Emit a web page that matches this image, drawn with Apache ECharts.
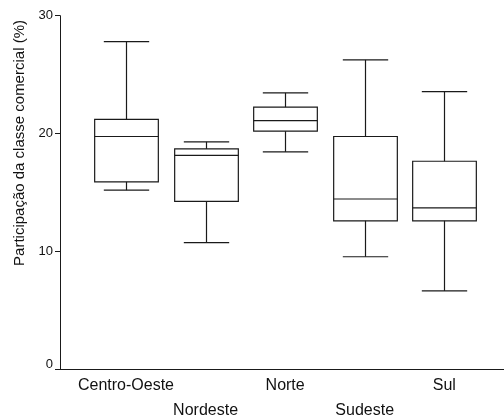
<!DOCTYPE html>
<html><head><meta charset="utf-8">
<script src="https://cdn.jsdelivr.net/npm/echarts@6/dist/echarts.min.js"></script>
<style>html,body{margin:0;padding:0;background:#fff}#c{width:504px;height:417px}</style>
</head><body><div id="c"></div>
<script>
const categories = ['Centro-Oeste', 'Nordeste', 'Norte', 'Sudeste', 'Sul'];
const whiskerLow = [15.2, 10.75, 18.45, 9.55, 6.65];
const q1 = [15.9, 14.25, 20.2, 12.6, 12.6];
const median = [19.75, 18.15, 21.1, 14.45, 13.7];
const q3 = [21.2, 18.7, 22.25, 19.75, 17.65];
const whiskerHigh = [27.8, 19.3, 23.45, 26.25, 23.55];
const yTicks = [0, 10, 20, 30];
const yTitle = 'Participação da classe comercial (%)';

const FONT = '"Liberation Sans", Arial, sans-serif';
const INK = '#1a1a1a';
const data = categories.map((c, i) => [i, whiskerLow[i], q1[i], median[i], q3[i], whiskerHigh[i]]);

const chart = echarts.init(document.getElementById('c'), null, {renderer: 'canvas'});
chart.setOption({
  animation: false,
  backgroundColor: '#fff',
  grid: [
    {left: 60, right: 0, top: 15.7, bottom: 47.7, outerBoundsMode: 'none', containLabel: false},
    {left: 86.2, right: 19.9, top: 15.7, bottom: 47.7, outerBoundsMode: 'none', containLabel: false}
  ],
  xAxis: [
    {gridIndex: 0, type: 'value', min: 0, max: 1,
     axisLine: {show: true, onZero: false, lineStyle: {color: INK, width: 1}},
     axisTick: {show: false}, axisLabel: {show: false}, splitLine: {show: false}},
    {gridIndex: 1, type: 'category', data: categories, boundaryGap: true,
     axisLine: {show: false}, axisTick: {show: false}, splitLine: {show: false},
     axisLabel: {
       interval: 0, margin: 4, fontFamily: FONT, fontSize: 16, color: '#111', lineHeight: 25,
       formatter: (v) => categories.indexOf(v) % 2 ? '\n' + v : v
     }}
  ],
  yAxis: [
    {gridIndex: 0, type: 'value', min: yTicks[0], max: yTicks[yTicks.length - 1], interval: 10,
     axisLine: {show: true, lineStyle: {color: INK, width: 1}},
     axisTick: {show: true, length: 5, lineStyle: {color: INK}},
     splitLine: {show: false},
     axisLabel: {margin: 7, fontFamily: FONT, fontSize: 13, color: '#111',
       formatter: (v) => v === 0 ? '{z|0}' : String(v),
       rich: {z: {fontFamily: FONT, fontSize: 13, color: '#111', padding: [0, 0, 9, 0]}}}},
    {gridIndex: 1, type: 'value', min: yTicks[0], max: yTicks[yTicks.length - 1], show: false}
  ],
  graphic: [{
    type: 'text', x: 20, y: 143, rotation: Math.PI / 2,
    style: {text: yTitle, font: '15px ' + FONT, fill: '#111', align: 'center', verticalAlign: 'middle'}
  }],
  series: [{
    type: 'custom', xAxisIndex: 1, yAxisIndex: 1,
    data: data,
    encode: {x: 0, y: [1, 2, 3, 4, 5]},
    renderItem: function (params, api) {
      const i = api.value(0);
      const band = api.size([1, 0])[0];
      const bw = band * 0.8, cw = band * 0.57;
      const lo = api.coord([i, api.value(1)]);
      const a = api.coord([i, api.value(2)]);
      const m = api.coord([i, api.value(3)]);
      const b = api.coord([i, api.value(4)]);
      const hi = api.coord([i, api.value(5)]);
      const x = Math.round(lo[0]) + 0.5;
      const st = {stroke: INK, lineWidth: 1.2, fill: null};
      const line = (x1, y1, x2, y2) => ({type: 'line', shape: {x1, y1, x2, y2}, style: st});
      return {type: 'group', children: [
        {type: 'rect', shape: {x: x - bw / 2, y: b[1], width: bw, height: a[1] - b[1]}, style: {stroke: INK, lineWidth: 1.2, fill: '#fff'}},
        line(x - bw / 2, m[1], x + bw / 2, m[1]),
        line(x, b[1], x, hi[1]),
        line(x, a[1], x, lo[1]),
        line(x - cw / 2, hi[1], x + cw / 2, hi[1]),
        line(x - cw / 2, lo[1], x + cw / 2, lo[1])
      ]};
    }
  }]
});
</script></body></html>
